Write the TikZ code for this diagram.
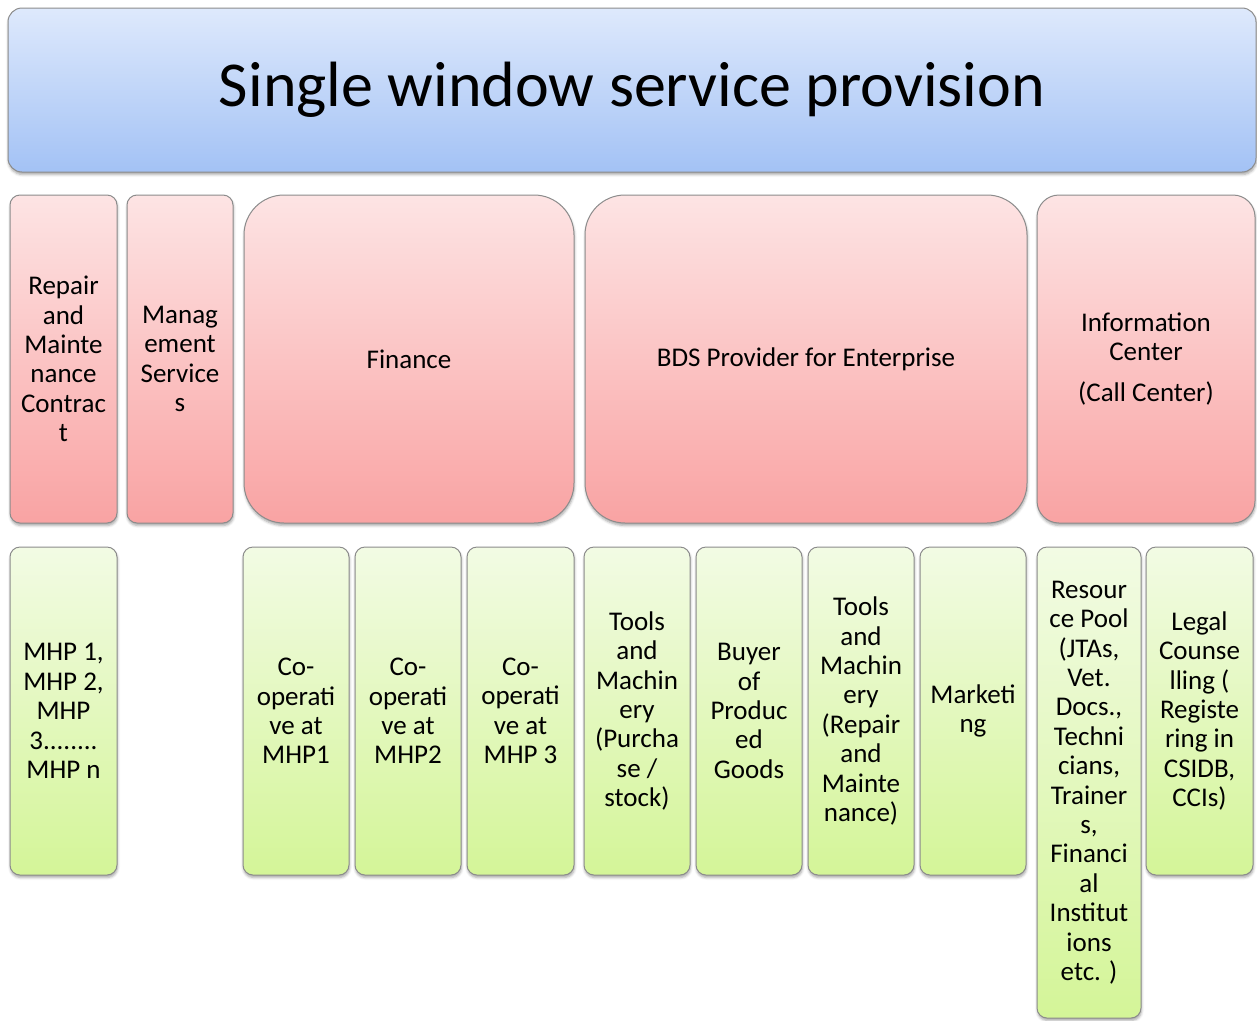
\documentclass[tikz,border=0pt]{standalone}
\usepackage{fontspec}
\setmainfont{Carlito}
\usepackage{tikz}
\usetikzlibrary{shadows}
\usetikzlibrary{shadows.blur}
\definecolor{blueTop}{RGB}{222,233,252}
\definecolor{blueBot}{RGB}{163,194,245}
\definecolor{pinkTop}{RGB}{253,228,228}
\definecolor{pinkBot}{RGB}{249,163,163}
\definecolor{greenTop}{RGB}{242,251,228}
\definecolor{greenBot}{RGB}{212,245,152}
\tikzset{
  cell/.style={draw=black!45,line width=1pt,rounded corners=10pt,align=center,inner sep=0pt,
    blur shadow={shadow xshift=0.5pt,shadow yshift=-2.5pt,shadow blur radius=2.5pt,shadow opacity=35},
    font=\fontsize{27}{29.4}\selectfont},
  titlebox/.style={cell,top color=blueTop,bottom color=blueBot,rounded corners=14pt,
    font=\fontsize{64}{70}\selectfont},
  pinkbox/.style={cell,top color=pinkTop,bottom color=pinkBot,minimum height=328pt},
  greenbox/.style={cell,top color=greenTop,bottom color=greenBot,minimum height=328pt}
}
\begin{document}
\begin{tikzpicture}[line cap=round,line join=round,x=1pt,y=-1pt]
\useasboundingbox (0,0) rectangle (1257,1020);
\node[titlebox,minimum width=1248pt,minimum height=164pt] (title) at (632,90) {Single window service provision};
% services
\node[pinkbox,minimum width=107pt] (repair) at (63.5,359) {Repair\\and\\Mainte\\nance\\Contrac\\t};
\node[pinkbox,minimum width=106pt] (mgmt) at (180,359) {Manag\\ement\\Service\\s};
\node[pinkbox,minimum width=330pt,rounded corners=40pt] (finance) at (409,359) {Finance};
\node[pinkbox,minimum width=442pt,rounded corners=40pt] (bds) at (806,359) {BDS Provider for Enterprise};
\node[pinkbox,minimum width=218pt,rounded corners=22pt] (info) at (1146,359) {Information\\Center\\[11pt](Call Center)};
% providers
\node[greenbox,minimum width=107pt] (mhp) at (63.5,711) {MHP 1,\\MHP 2,\\MHP\\3........\\MHP n};
\node[greenbox,minimum width=106pt] (coopA) at (296,711) {Co-\\operati\\ve at\\MHP1};
\node[greenbox,minimum width=106pt] (coopB) at (408,711) {Co-\\operati\\ve at\\MHP2};
\node[greenbox,minimum width=107pt] (coopC) at (520.5,711) {Co-\\operati\\ve at\\MHP 3};
\node[greenbox,minimum width=106pt] (toolsA) at (637,711) {Tools\\and\\Machin\\ery\\(Purcha\\se /\\stock)};
\node[greenbox,minimum width=106pt] (buyer) at (749,711) {Buyer\\of\\Produc\\ed\\Goods};
\node[greenbox,minimum width=106pt] (toolsB) at (861,711) {Tools\\and\\Machin\\ery\\(Repair\\and\\Mainte\\nance)};
\node[greenbox,minimum width=106pt] (market) at (973,711) {Marketi\\ng};
\node[greenbox,minimum width=104pt,minimum height=471pt] (pool) at (1089,782.5) {Resour\\ce Pool\\(JTAs,\\Vet.\\Docs.,\\Techni\\cians,\\Trainer\\s,\\Financi\\al\\Institut\\ions\\etc. )};
\node[greenbox,minimum width=107pt] (legal) at (1199.5,711) {Legal\\Counse\\lling (\\Registe\\ring in\\CSIDB,\\CCIs)};
\end{tikzpicture}
\end{document}
